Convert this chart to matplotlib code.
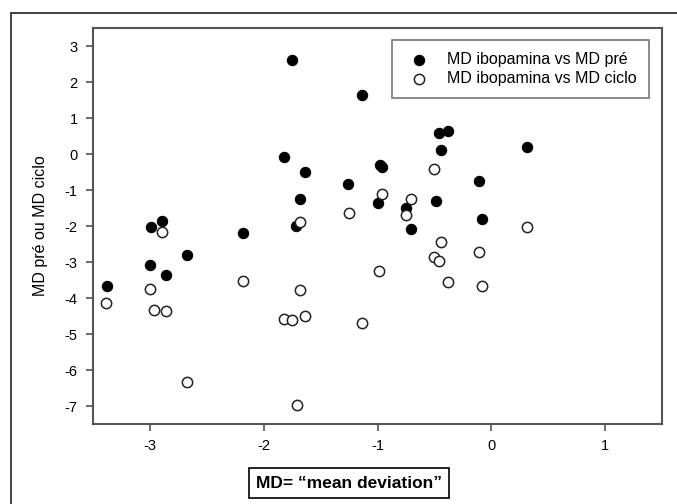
import matplotlib
matplotlib.use("Agg")
import matplotlib.pyplot as plt
from matplotlib.patches import Rectangle

plt.rcParams['font.family'] = ['Liberation Sans', 'DejaVu Sans']
plt.rcParams['axes.unicode_minus'] = False

# MD ibopamina (x) vs MD pré (filled points)
x_pre = [-3.38, -3.00, -2.86, -2.67, -2.99, -2.89, -2.18, -1.75, -1.14, -1.82,
         -1.64, -1.26, -1.68, -1.72, -0.98, -0.96, -1.00, -0.46, -0.38, -0.44,
         0.31, -0.11, -0.49, -0.75, -0.71, -0.08]
y_pre = [-3.67, -3.09, -3.36, -2.81, -2.03, -1.86, -2.20, 2.60, 1.64, -0.09,
         -0.50, -0.83, -1.26, -2.00, -0.31, -0.36, -1.37, 0.58, 0.64, 0.11,
         0.19, -0.75, -1.31, -1.50, -2.08, -1.81]

# MD ibopamina (x) vs MD ciclo (open points)
x_ciclo = [-2.89, -1.68, -1.25, -0.96, -0.50, -0.71, -0.75, 0.31, -0.44, -0.50,
           -0.46, -0.11, -0.99, -0.38, -0.08, -3.39, -3.00, -2.96, -2.86, -2.18,
           -1.82, -1.75, -1.64, -1.68, -1.14, -2.67, -1.71]
y_ciclo = [-2.17, -1.89, -1.64, -1.11, -0.42, -1.25, -1.69, -2.03, -2.44, -2.86,
           -2.97, -2.72, -3.25, -3.56, -3.67, -4.14, -3.75, -4.33, -4.35, -3.53,
           -4.58, -4.61, -4.50, -3.78, -4.69, -6.33, -6.97]

fig = plt.figure(figsize=(6.77, 5.04), dpi=100)
ax = fig.add_axes([93/677, 1 - 424/504, (662 - 93)/677, (424 - 28)/504])

ax.scatter(x_pre, y_pre, s=55, color='black', edgecolors='black', linewidths=0.8,
           label='MD ibopamina vs MD pré', zorder=3)
ax.scatter(x_ciclo, y_ciclo, s=55, facecolors='white', edgecolors='#222222',
           linewidths=1.1, label='MD ibopamina vs MD ciclo', zorder=3)

ax.set_xlim(-3.5, 1.5)
ax.set_ylim(-7.5, 3.5)
ax.set_xticks([-3, -2, -1, 0, 1])
ax.set_yticks(range(-7, 4))
ax.tick_params(direction='out', length=5, width=1.2, color='#555555',
               labelsize=10.5, pad=6)
for s in ax.spines.values():
    s.set_color('#555555')
    s.set_linewidth(1.5)

ax.set_ylabel('MD pré ou MD ciclo', fontsize=11.5, labelpad=12)

leg = ax.legend(loc='upper right', bbox_to_anchor=(0.977, 0.970), fontsize=11.5,
                frameon=True, fancybox=False, edgecolor='#555555',
                handletextpad=0.9, borderpad=0.75, labelspacing=0.25,
                handlelength=1.8, borderaxespad=0)
leg.get_frame().set_linewidth(1.2)

fig.text(349/677, 1 - 483/504, 'MD= \u201cmean deviation\u201d', fontsize=12.5,
         fontweight='bold', ha='center', va='center',
         bbox=dict(boxstyle='square,pad=0.42', facecolor='white',
                   edgecolor='black', linewidth=1.2))

# outer frame of the figure (left and top edges visible)
fig.patches.append(Rectangle((11/677, -0.1), 1.2, 1 - 13/504 + 0.1,
                             transform=fig.transFigure, fill=False,
                             edgecolor='#333333', linewidth=1.3))

fig.savefig('out.png', dpi=100)
